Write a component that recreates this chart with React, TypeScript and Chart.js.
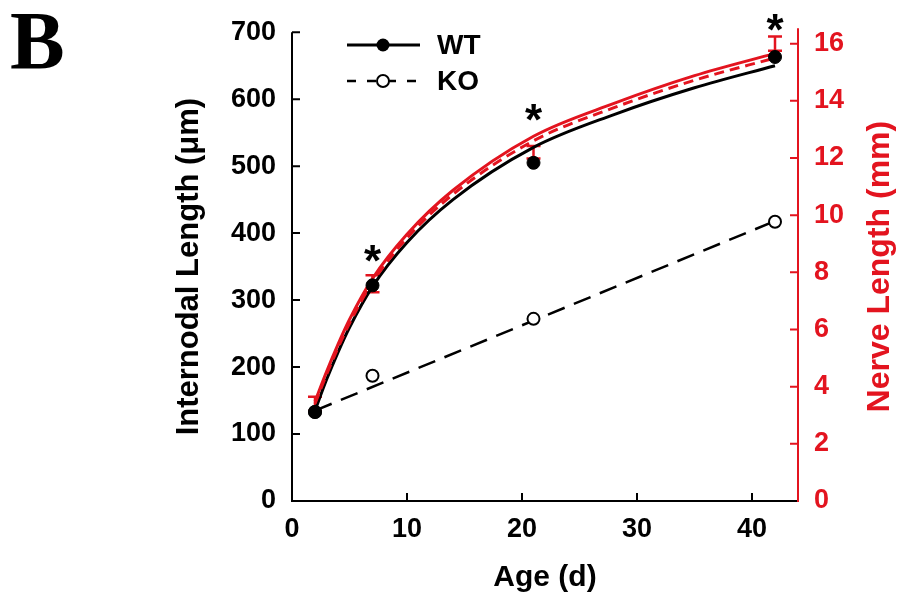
import React, { useEffect, useRef } from 'react';
import { Chart, registerables } from 'chart.js';
Chart.register(...registerables);

// ---- data ----
const ages = [2, 7, 21, 42];
const wtInternode = [133, 322, 505, 663];
const koInternode = [133, 187, 272, 417];
const nerveMean = [3.4, 7.6, 12.2, 16.0];
const nerveErr = [0.25, 0.3, 0.22, 0.25];

const fitAges = [2, 3, 4, 5, 7, 10, 14, 21, 28, 35, 42];
const wtFit = [135, 181, 222, 259, 320, 386, 450, 528, 577, 617, 650];
const nerveFitWT = [3.48, 4.52, 5.48, 6.35, 7.78, 9.33, 10.87, 12.76, 13.91, 14.88, 15.66];
const nerveFitKO = [3.4, 4.42, 5.36, 6.22, 7.65, 9.2, 10.73, 12.6, 13.76, 14.72, 15.5];
const koFitAges = [2, 42];
const koFit = [135, 418];

const starAges = [7, 21, 42];
const starLevels = [373, 584, 718];

const xTicks = [0, 10, 20, 30, 40];
const yTicks = [0, 100, 200, 300, 400, 500, 600, 700];
const y2Ticks = [0, 2, 4, 6, 8, 10, 12, 14, 16];

const RED = '#e3141f';
const FONT = "'Liberation Sans', Arial, sans-serif";

export default function App() {
  const ref = useRef<HTMLCanvasElement>(null);

  useEffect(() => {
    const pts = (xs: number[], ys: number[]) => xs.map((x, i) => ({ x, y: ys[i] }));

    const decor = {
      id: 'decor',
      beforeDatasetsDraw(chart: any) {
        const ctx = chart.ctx;
        const xs = chart.scales.x;
        const y2 = chart.scales.y2;
        ctx.save();
        ctx.strokeStyle = RED;
        ctx.lineWidth = 2.5;
        ages.forEach((a, i) => {
          const px = xs.getPixelForValue(a);
          const top = y2.getPixelForValue(nerveMean[i] + nerveErr[i]);
          const bot = y2.getPixelForValue(nerveMean[i] - nerveErr[i]);
          ctx.beginPath();
          ctx.moveTo(px, top); ctx.lineTo(px, bot);
          ctx.moveTo(px - 7, top); ctx.lineTo(px + 7, top);
          ctx.moveTo(px - 7, bot); ctx.lineTo(px + 7, bot);
          ctx.stroke();
        });
        ctx.restore();
      },
      afterDraw(chart: any) {
        const ctx = chart.ctx;
        const { left, right, top, bottom } = chart.chartArea;
        const xs = chart.scales.x;
        const ys = chart.scales.y;
        const y2 = chart.scales.y2;
        ctx.save();
        // axes
        ctx.lineWidth = 2;
        ctx.strokeStyle = '#000';
        ctx.beginPath();
        ctx.moveTo(left, top); ctx.lineTo(left, bottom); ctx.lineTo(right, bottom);
        ctx.stroke();
        ctx.beginPath();
        yTicks.forEach(v => {
          if (v === 0) return;
          const py = ys.getPixelForValue(v);
          ctx.moveTo(left, py); ctx.lineTo(left + 8, py);
        });
        xTicks.forEach(v => {
          if (v === 0) return;
          const px = xs.getPixelForValue(v);
          ctx.moveTo(px, bottom); ctx.lineTo(px, bottom - 8);
        });
        ctx.stroke();
        ctx.strokeStyle = RED;
        ctx.beginPath();
        ctx.moveTo(right, bottom + 1); ctx.lineTo(right, top - 4);
        y2Ticks.forEach(v => {
          if (v === 0) return;
          const py = y2.getPixelForValue(v);
          ctx.moveTo(right, py); ctx.lineTo(right - 8, py);
        });
        ctx.stroke();

        // right title (reads bottom to top)
        ctx.save();
        ctx.translate(880, (top + bottom) / 2);
        ctx.rotate(-Math.PI / 2);
        ctx.fillStyle = RED;
        ctx.font = `bold 32px ${FONT}`;
        ctx.textAlign = 'center';
        ctx.textBaseline = 'middle';
        ctx.fillText('Nerve Length (mm)', 0, 0);
        ctx.restore();

        // significance stars
        ctx.fillStyle = '#000';
        ctx.font = `bold 44px ${FONT}`;
        ctx.textAlign = 'center';
        ctx.textBaseline = 'alphabetic';
        starAges.forEach((a, i) => {
          const px = xs.getPixelForValue(a);
          const py = ys.getPixelForValue(starLevels[i]);
          ctx.fillText('*', px, py + 0.57 * 44);
        });

        // legend
        ctx.lineWidth = 3;
        ctx.strokeStyle = '#000';
        ctx.beginPath();
        ctx.moveTo(347, 45); ctx.lineTo(420, 45);
        ctx.stroke();
        ctx.beginPath();
        ctx.arc(383, 45, 6.5, 0, Math.PI * 2);
        ctx.fillStyle = '#000';
        ctx.fill();
        ctx.lineWidth = 2.5;
        ctx.setLineDash([9, 11]);
        ctx.beginPath();
        ctx.moveTo(347, 81); ctx.lineTo(420, 81);
        ctx.stroke();
        ctx.setLineDash([]);
        ctx.beginPath();
        ctx.arc(383, 81, 6, 0, Math.PI * 2);
        ctx.fillStyle = '#fff';
        ctx.fill();
        ctx.lineWidth = 2;
        ctx.stroke();
        ctx.fillStyle = '#000';
        ctx.font = `bold 28px ${FONT}`;
        ctx.textAlign = 'left';
        ctx.textBaseline = 'middle';
        ctx.fillText('WT', 437, 46);
        ctx.fillText('KO', 437, 82);

        // panel letter
        ctx.font = "bold 82px 'Liberation Serif', 'Times New Roman', serif";
        ctx.textBaseline = 'alphabetic';
        ctx.fillText('B', 10, 68);
        ctx.restore();
      },
    };

    const chart = new Chart(ref.current as HTMLCanvasElement, {
      type: 'line',
      data: {
        datasets: [
          {
            label: 'WT',
            data: pts(ages, wtInternode),
            yAxisID: 'y',
            showLine: false,
            pointRadius: 6.5,
            pointBackgroundColor: '#000',
            pointBorderColor: '#000',
            pointBorderWidth: 1,
            order: 0,
            clip: false,
          },
          {
            label: 'KO',
            data: pts(ages, koInternode),
            yAxisID: 'y',
            showLine: false,
            pointRadius: 6,
            pointBackgroundColor: '#fff',
            pointBorderColor: '#000',
            pointBorderWidth: 2,
            order: 1,
            clip: false,
          },
          {
            label: 'Nerve WT fit',
            data: pts(fitAges, nerveFitWT),
            yAxisID: 'y2',
            borderColor: RED,
            borderWidth: 3,
            pointRadius: 0,
            cubicInterpolationMode: 'monotone',
            order: 2,
          },
          {
            label: 'Nerve KO fit',
            data: pts(fitAges, nerveFitKO),
            yAxisID: 'y2',
            borderColor: RED,
            borderWidth: 3,
            borderDash: [10, 6],
            pointRadius: 0,
            cubicInterpolationMode: 'monotone',
            order: 3,
          },
          {
            label: 'WT fit',
            data: pts(fitAges, wtFit),
            yAxisID: 'y',
            borderColor: '#000',
            borderWidth: 3,
            pointRadius: 0,
            cubicInterpolationMode: 'monotone',
            order: 4,
          },
          {
            label: 'KO fit',
            data: pts(koFitAges, koFit),
            yAxisID: 'y',
            borderColor: '#000',
            borderWidth: 2.5,
            borderDash: [18, 10],
            pointRadius: 0,
            order: 5,
          },
        ],
      },
      options: {
        animation: false,
        responsive: true,
        maintainAspectRatio: false,
        layout: { padding: { top: 30, left: 0, right: 0, bottom: 0 } },
        plugins: { legend: { display: false }, tooltip: { enabled: false } },
        scales: {
          x: {
            type: 'linear',
            min: 0,
            max: 44,
            grid: { display: false, drawTicks: false },
            border: { display: false },
            afterBuildTicks: (s: any) => { s.ticks = xTicks.map(v => ({ value: v })); },
            afterFit: (s: any) => { s.height = 99; },
            ticks: { color: '#000', font: { family: FONT, size: 27, weight: 'bold' }, padding: 12, maxRotation: 0 },
            title: {
              display: true,
              text: 'Age (d)',
              color: '#000',
              font: { family: FONT, size: 30, weight: 'bold' },
              padding: { top: 0, bottom: 4 },
            },
          },
          y: {
            type: 'linear',
            position: 'left',
            min: 0,
            max: 700,
            grid: { display: false, drawTicks: false },
            border: { display: false },
            afterBuildTicks: (s: any) => { s.ticks = yTicks.map(v => ({ value: v })); },
            afterFit: (s: any) => { s.width = 292; },
            ticks: { color: '#000', font: { family: FONT, size: 27, weight: 'bold' }, padding: 16 },
            title: {
              display: true,
              text: 'Internodal Length (μm)',
              color: '#000',
              font: { family: FONT, size: 31, weight: 'bold' },
              padding: { top: 171, bottom: 0 },
            },
          },
          y2: {
            type: 'linear',
            position: 'right',
            min: 0,
            max: 16.4,
            grid: { display: false, drawTicks: false },
            border: { display: false },
            afterBuildTicks: (s: any) => { s.ticks = y2Ticks.map(v => ({ value: v })); },
            afterFit: (s: any) => { s.width = 100; },
            ticks: { color: RED, font: { family: FONT, size: 27, weight: 'bold' }, padding: 16 },
          },
        },
      },
      plugins: [decor],
    } as any);
    return () => chart.destroy();
  }, []);

  return (
    <div style={{ position: 'absolute', left: 0, top: 0, width: 898, height: 600, background: '#fff' }}>
      <canvas ref={ref} />
    </div>
  );
}
